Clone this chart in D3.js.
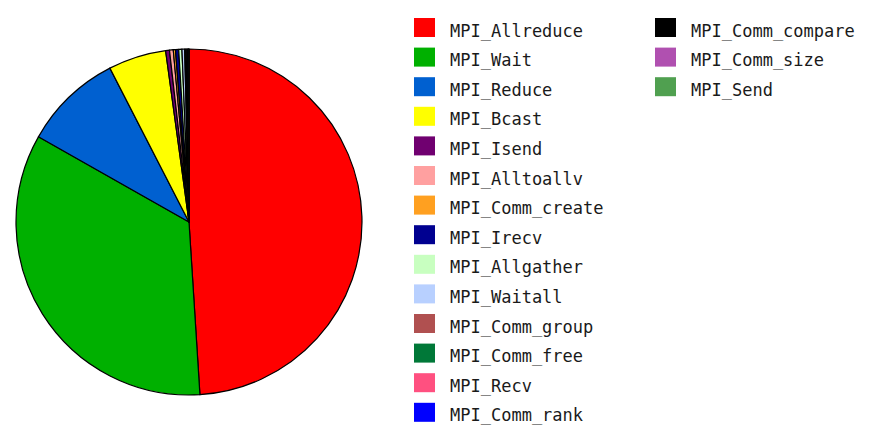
<!DOCTYPE html>
<html>
<head>
<meta charset="utf-8">
<script src="https://cdn.jsdelivr.net/npm/d3@7"></script>
<style>
  html, body { margin: 0; padding: 0; background: #ffffff; }
  svg { display: block; }
</style>
</head>
<body>
<svg id="chart" width="886" height="444"></svg>
<script>
const categories = [
  "MPI_Allreduce", "MPI_Wait", "MPI_Reduce", "MPI_Bcast", "MPI_Isend",
  "MPI_Alltoallv", "MPI_Comm_create", "MPI_Irecv", "MPI_Allgather", "MPI_Waitall",
  "MPI_Comm_group", "MPI_Comm_free", "MPI_Recv", "MPI_Comm_rank",
  "MPI_Comm_compare", "MPI_Comm_size", "MPI_Send"
];
const values = [
  49.0, 34.2, 9.25, 5.4, 0.36,
  0.35, 0.2, 0.3, 0.3, 0.25,
  0.1, 0.1, 0.08, 0.04,
  0.05, 0.02, 0.01
];
const colors = [
  "#ff0000", "#00b000", "#0060d0", "#ffff00", "#700070",
  "#ffa0a0", "#ffa020", "#000090", "#c8ffc0", "#b8d0ff",
  "#b05050", "#007838", "#ff5080", "#0000ff",
  "#000000", "#b050b0", "#50a050"
];

const svg = d3.select("#chart");
const cx = 189, cy = 222, r = 173;

const pie = d3.pie().sort(null).value(d => d.value);
const arc = d3.arc().innerRadius(0).outerRadius(r);
const data = categories.map((c, i) => ({ name: c, value: values[i] }));

const color = d3.scaleOrdinal().domain(categories).range(colors);

svg.append("g")
  .attr("transform", `translate(${cx},${cy})`)
  .selectAll("path")
  .data(pie(data))
  .join("path")
  .attr("d", arc)
  .attr("fill", d => color(d.data.name))
  .attr("stroke", "#000")
  .attr("stroke-width", 1.2)
  .attr("stroke-linejoin", "round");

// Legend
const rowsPerCol = 14;
const rowH = 29.6;
const legend = svg.append("g");
const items = legend.selectAll("g")
  .data(data)
  .join("g")
  .attr("transform", (d, i) => {
    const col = Math.floor(i / rowsPerCol);
    const row = i % rowsPerCol;
    const x = col === 0 ? 414 : 655;
    const y = 18 + row * rowH;
    return `translate(${x},${y})`;
  });
items.append("rect")
  .attr("width", 21).attr("height", 19)
  .attr("fill", d => color(d.name));
items.append("text")
  .attr("x", 36).attr("y", 18.5)
  .attr("font-family", "'DejaVu Sans Mono', 'Liberation Mono', monospace")
  .attr("font-size", 17)
  .attr("fill", "#1a1a1a")
  .text(d => d.name);
</script>
</body>
</html>
